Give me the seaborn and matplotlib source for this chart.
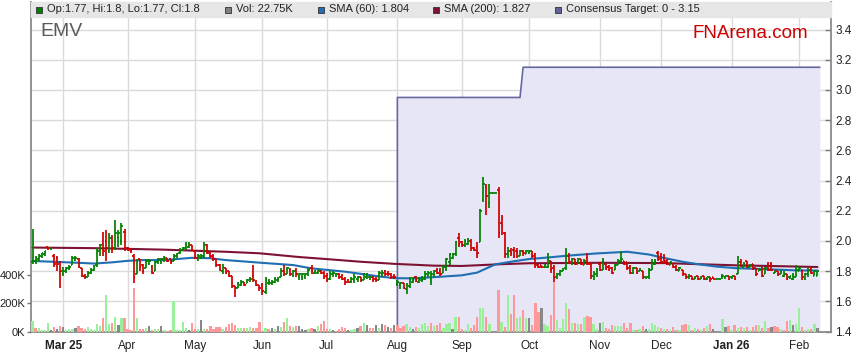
import numpy as np
import pandas as pd
import matplotlib
matplotlib.use("Agg")
import matplotlib.pyplot as plt
import seaborn as sns
from matplotlib.patches import Rectangle

sns.set_style("white")
plt.rcParams['font.family'] = ['Liberation Sans', 'DejaVu Sans']

# daily OHLC, one row per month (Feb 25 .. Feb 26)
open_ = [
    1.86, 1.87, 1.88, 1.90, 1.91, 1.96, 1.95, 1.90, 1.89, 1.86,
    1.78, 1.80, 1.82, 1.84, 1.88, 1.88, 1.82, 1.77, 1.76, 1.79, 1.81, 1.84, 1.93, 1.98, 2.00, 1.93, 2.02, 1.95, 2.02, 2.00, 2.06,
    1.95, 1.94, 1.90, 1.78, 1.88, 1.84, 1.82, 1.85, 1.83, 1.80, 1.86, 1.87, 1.88, 1.89, 1.88, 1.87, 1.90, 1.92, 1.94, 1.95, 1.96, 1.97,
    1.93, 1.88, 1.89, 1.90, 1.97, 1.92, 1.90, 1.88, 1.84, 1.80, 1.82, 1.80, 1.77, 1.70, 1.69, 1.71, 1.73, 1.72, 1.74, 1.77, 1.73, 1.71,
    1.71, 1.66, 1.72, 1.72, 1.73, 1.74, 1.76, 1.80, 1.78, 1.81, 1.77, 1.81, 1.77, 1.76, 1.77, 1.78, 1.82, 1.79, 1.79, 1.80, 1.79,
    1.77, 1.75, 1.78, 1.78, 1.78, 1.77, 1.75, 1.74, 1.73, 1.74, 1.75, 1.76, 1.74, 1.76, 1.76, 1.76, 1.75, 1.74, 1.78, 1.80, 1.79, 1.78, 1.77,
    1.72, 1.71, 1.72, 1.68, 1.70, 1.73, 1.76, 1.73, 1.74, 1.75, 1.77, 1.74, 1.77, 1.81, 1.80, 1.79, 1.82, 1.86, 1.89, 1.91, 2.02,
    1.99, 1.97, 1.98, 2.00, 1.95, 1.96, 1.99, 2.27, 2.36, 2.25, 2.32, 2.32, 2.34, 2.12, 2.05, 1.91, 1.93, 1.94, 1.93, 1.90, 1.93, 1.91,
    1.92, 1.93, 1.91, 1.84, 1.84, 1.83, 1.83, 1.87, 1.82, 1.76, 1.78, 1.80, 1.82, 1.90, 1.85, 1.88, 1.85, 1.88, 1.84, 1.89, 1.85, 1.77, 1.78,
    1.85, 1.81, 1.85, 1.83, 1.82, 1.81, 1.84, 1.86, 1.87, 1.86, 1.83, 1.79, 1.82, 1.80, 1.80, 1.76, 1.76, 1.81, 1.85, 1.92,
    1.90, 1.89, 1.87, 1.84, 1.85, 1.83, 1.80, 1.81, 1.78, 1.76, 1.77, 1.75, 1.77, 1.75, 1.77, 1.75, 1.76, 1.76, 1.75, 1.75, 1.76, 1.76, 1.77,
    1.76, 1.77, 1.78, 1.86, 1.83, 1.87, 1.83, 1.85, 1.82, 1.80, 1.82, 1.78, 1.84, 1.85, 1.79, 1.80, 1.78, 1.77, 1.78, 1.76, 1.75, 1.76,
    1.80, 1.81, 1.75, 1.78, 1.82, 1.77, 1.77,
]
high = [
    2.08, 1.90, 1.91, 1.92, 1.93, 1.96, 1.96, 1.91, 1.90, 1.87,
    1.83, 1.83, 1.84, 1.90, 1.90, 1.89, 1.82, 1.78, 1.80, 1.82, 1.84, 1.95, 1.98, 2.06, 2.07, 2.05, 2.04, 2.14, 2.07, 2.12, 2.08,
    1.96, 1.95, 1.91, 1.88, 1.88, 1.85, 1.88, 1.88, 1.84, 1.87, 1.89, 1.89, 1.90, 1.89, 1.88, 1.91, 1.92, 1.95, 1.96, 1.99, 1.99, 1.97,
    1.94, 1.91, 1.91, 1.99, 1.98, 1.93, 1.91, 1.88, 1.85, 1.85, 1.82, 1.80, 1.77, 1.70, 1.73, 1.74, 1.73, 1.75, 1.76, 1.84, 1.74, 1.71,
    1.72, 1.76, 1.75, 1.74, 1.76, 1.76, 1.82, 1.84, 1.83, 1.82, 1.81, 1.82, 1.79, 1.79, 1.79, 1.82, 1.84, 1.81, 1.81, 1.81, 1.80,
    1.79, 1.80, 1.80, 1.79, 1.79, 1.78, 1.76, 1.75, 1.76, 1.78, 1.77, 1.76, 1.79, 1.79, 1.77, 1.77, 1.76, 1.80, 1.81, 1.81, 1.80, 1.79, 1.78,
    1.74, 1.73, 1.72, 1.72, 1.76, 1.76, 1.77, 1.76, 1.77, 1.80, 1.80, 1.80, 1.81, 1.82, 1.82, 1.84, 1.89, 1.92, 1.92, 2.00, 2.05,
    2.00, 2.01, 2.02, 2.01, 1.96, 1.99, 2.21, 2.42, 2.38, 2.38, 2.32, 2.32, 2.36, 2.17, 2.06, 1.96, 1.95, 1.96, 1.95, 1.94, 1.94, 1.94,
    1.94, 1.93, 1.92, 1.85, 1.84, 1.85, 1.92, 1.87, 1.84, 1.79, 1.81, 1.82, 1.95, 1.92, 1.89, 1.88, 1.89, 1.88, 1.88, 1.92, 1.86, 1.80, 1.82,
    1.86, 1.89, 1.85, 1.84, 1.83, 1.85, 1.88, 1.93, 1.87, 1.86, 1.84, 1.83, 1.82, 1.82, 1.80, 1.76, 1.82, 1.88, 1.88, 1.93,
    1.92, 1.91, 1.88, 1.86, 1.85, 1.84, 1.83, 1.81, 1.78, 1.78, 1.77, 1.77, 1.77, 1.77, 1.77, 1.76, 1.76, 1.76, 1.75, 1.75, 1.78, 1.77, 1.77,
    1.77, 1.77, 1.90, 1.88, 1.86, 1.87, 1.85, 1.85, 1.82, 1.82, 1.83, 1.83, 1.86, 1.86, 1.81, 1.80, 1.81, 1.80, 1.78, 1.77, 1.79, 1.84,
    1.83, 1.81, 1.79, 1.82, 1.82, 1.81, 1.80,
]
low = [
    1.85, 1.85, 1.87, 1.89, 1.90, 1.94, 1.94, 1.83, 1.80, 1.69,
    1.77, 1.79, 1.81, 1.84, 1.87, 1.82, 1.76, 1.75, 1.76, 1.78, 1.80, 1.83, 1.90, 1.90, 1.87, 1.92, 1.92, 1.94, 1.96, 1.97, 1.93,
    1.93, 1.92, 1.72, 1.78, 1.80, 1.78, 1.82, 1.84, 1.78, 1.80, 1.85, 1.85, 1.86, 1.86, 1.85, 1.87, 1.89, 1.91, 1.93, 1.94, 1.95, 1.93,
    1.88, 1.87, 1.88, 1.89, 1.91, 1.89, 1.87, 1.83, 1.80, 1.78, 1.78, 1.76, 1.69, 1.63, 1.69, 1.70, 1.70, 1.72, 1.73, 1.73, 1.70, 1.67,
    1.64, 1.65, 1.71, 1.71, 1.72, 1.73, 1.76, 1.77, 1.78, 1.77, 1.76, 1.76, 1.74, 1.74, 1.75, 1.77, 1.78, 1.78, 1.78, 1.78, 1.75,
    1.73, 1.74, 1.76, 1.76, 1.75, 1.74, 1.71, 1.72, 1.72, 1.72, 1.73, 1.73, 1.74, 1.75, 1.74, 1.73, 1.73, 1.74, 1.76, 1.77, 1.77, 1.75, 1.75,
    1.70, 1.68, 1.68, 1.65, 1.69, 1.72, 1.73, 1.72, 1.73, 1.74, 1.76, 1.71, 1.76, 1.78, 1.77, 1.79, 1.80, 1.84, 1.88, 1.90, 1.96,
    1.96, 1.96, 1.97, 1.93, 1.93, 1.89, 1.99, 2.26, 2.17, 2.22, 2.32, 2.32, 2.02, 2.04, 1.89, 1.89, 1.90, 1.89, 1.89, 1.90, 1.90, 1.91,
    1.91, 1.89, 1.82, 1.82, 1.82, 1.82, 1.82, 1.79, 1.73, 1.75, 1.77, 1.80, 1.81, 1.85, 1.84, 1.84, 1.85, 1.84, 1.84, 1.84, 1.75, 1.74, 1.76,
    1.80, 1.81, 1.81, 1.80, 1.78, 1.81, 1.84, 1.86, 1.84, 1.81, 1.78, 1.78, 1.78, 1.80, 1.75, 1.75, 1.75, 1.81, 1.84, 1.87,
    1.85, 1.85, 1.84, 1.84, 1.82, 1.80, 1.80, 1.77, 1.75, 1.75, 1.74, 1.75, 1.74, 1.75, 1.74, 1.74, 1.73, 1.75, 1.75, 1.75, 1.75, 1.75, 1.74,
    1.75, 1.74, 1.78, 1.83, 1.83, 1.82, 1.83, 1.81, 1.77, 1.80, 1.76, 1.78, 1.80, 1.80, 1.79, 1.77, 1.78, 1.76, 1.74, 1.75, 1.74, 1.76,
    1.80, 1.74, 1.74, 1.76, 1.78, 1.77, 1.77,
]
close = [
    1.98, 1.89, 1.90, 1.92, 1.93, 1.95, 1.95, 1.85, 1.85, 1.80,
    1.80, 1.82, 1.83, 1.89, 1.89, 1.83, 1.77, 1.76, 1.79, 1.81, 1.83, 1.93, 1.97, 1.93, 1.95, 2.02, 1.95, 2.05, 2.05, 2.10, 1.95,
    1.94, 1.93, 1.76, 1.86, 1.83, 1.80, 1.87, 1.87, 1.79, 1.86, 1.88, 1.88, 1.89, 1.87, 1.86, 1.90, 1.91, 1.94, 1.95, 1.97, 1.97, 1.94,
    1.89, 1.90, 1.90, 1.97, 1.92, 1.90, 1.88, 1.84, 1.81, 1.83, 1.79, 1.77, 1.70, 1.69, 1.72, 1.73, 1.71, 1.74, 1.75, 1.74, 1.71, 1.69,
    1.67, 1.74, 1.73, 1.73, 1.75, 1.75, 1.80, 1.78, 1.82, 1.78, 1.80, 1.78, 1.78, 1.78, 1.78, 1.81, 1.80, 1.80, 1.81, 1.79, 1.76,
    1.74, 1.79, 1.79, 1.78, 1.76, 1.75, 1.73, 1.73, 1.75, 1.76, 1.76, 1.74, 1.78, 1.78, 1.76, 1.74, 1.74, 1.79, 1.79, 1.78, 1.78, 1.76, 1.76,
    1.73, 1.72, 1.69, 1.71, 1.75, 1.75, 1.74, 1.75, 1.76, 1.78, 1.79, 1.78, 1.80, 1.79, 1.78, 1.83, 1.88, 1.91, 1.91, 1.99, 1.98,
    1.97, 2.00, 2.01, 1.95, 1.94, 1.92, 2.20, 2.38, 2.30, 2.32, 2.32, 2.32, 2.05, 2.10, 1.91, 1.93, 1.92, 1.90, 1.92, 1.93, 1.92, 1.93,
    1.93, 1.90, 1.84, 1.83, 1.83, 1.84, 1.88, 1.81, 1.76, 1.78, 1.80, 1.81, 1.90, 1.86, 1.88, 1.85, 1.88, 1.85, 1.87, 1.85, 1.77, 1.79, 1.81,
    1.81, 1.87, 1.82, 1.81, 1.79, 1.84, 1.87, 1.88, 1.85, 1.82, 1.79, 1.82, 1.79, 1.81, 1.76, 1.76, 1.81, 1.86, 1.87, 1.88,
    1.86, 1.87, 1.85, 1.86, 1.83, 1.81, 1.82, 1.78, 1.76, 1.77, 1.75, 1.76, 1.75, 1.76, 1.75, 1.76, 1.75, 1.75, 1.75, 1.75, 1.77, 1.77, 1.75,
    1.77, 1.75, 1.86, 1.84, 1.85, 1.83, 1.84, 1.82, 1.78, 1.81, 1.77, 1.82, 1.81, 1.81, 1.80, 1.78, 1.80, 1.78, 1.75, 1.77, 1.77, 1.81,
    1.82, 1.76, 1.78, 1.81, 1.79, 1.80, 1.80,
]
# volume in thousands
volume_k = [
    75, 24, 24, 12, 8, 59, 10, 33, 17, 40, 33, 8, 17, 21, 28, 38, 28, 21, 33, 21,
    10, 52, 40, 99, 257, 52, 59, 106, 47, 94, 94, 17, 9, 307, 99, 21, 17, 28, 40, 9,
    21, 15, 40, 10,
    5, 8, 217, 10, 12, 64, 28, 10, 57, 17, 21, 83, 17, 21, 40, 21, 33, 33, 17, 33,
    52, 57, 45, 24, 24, 24, 28, 33, 28, 24, 64, 5, 24, 21, 28, 21, 40, 33, 64, 94,
    40, 33, 40,
    40, 21, 10, 17, 28, 21, 40, 52, 75, 17, 17, 10, 5, 17, 33, 24, 12, 10, 21, 28,
    40, 59, 47, 28, 28, 47, 28, 52, 47, 35, 26, 47, 47, 28, 40, 52, 35, 17, 33, 24,
    52, 59, 40, 59, 40,
    45, 57, 24, 52, 57, 21, 106, 106, 21, 12, 52, 28, 45, 106, 170, 170, 106, 52, 0, 0,
    293, 64, 33, 257, 123, 257, 94, 106, 153, 94, 94, 45, 200, 139, 165, 52, 40, 116, 355, 80,
    24, 92, 200, 158,
    59, 59, 52, 52, 104, 111, 104, 52, 17, 59, 71, 24, 17, 45, 40, 40, 40, 59, 24, 57,
    9, 9, 17, 40, 17, 17, 59, 45, 33, 28, 17, 17, 10, 33, 9, 9, 47, 52, 47, 12,
    28, 17, 10, 28,
    40, 52, 17, 0, 0, 87, 33, 40, 12, 45, 28, 33, 24, 33, 9, 33, 45, 45, 28, 75,
    28, 33, 40, 33, 21, 12, 75, 80, 45, 52, 165, 35, 9, 21, 17, 52, 22.75,
]

# moving averages (bar index, value)
sma60_idx = [0, 9, 15, 20, 26, 31, 36, 43, 52, 58, 63, 74, 85, 91, 102, 113, 118, 124, 131,
             140, 145, 151, 157, 162, 168, 175, 184, 194, 201, 206, 212, 217, 223, 229, 240, 250, 256]
sma60_val = [1.867, 1.860, 1.855, 1.850, 1.858, 1.868, 1.873, 1.873, 1.888, 1.885, 1.873, 1.856,
             1.840, 1.818, 1.796, 1.765, 1.753, 1.752, 1.760, 1.772, 1.790, 1.845, 1.865, 1.880,
             1.890, 1.903, 1.917, 1.928, 1.910, 1.887, 1.862, 1.846, 1.830, 1.820, 1.812, 1.804, 1.804]
sma200_idx = [0, 20, 43, 63, 74, 87, 97, 107, 118, 131, 140, 152, 162, 185, 206, 217, 230, 245, 256]
sma200_val = [1.956, 1.952, 1.942, 1.928, 1.918, 1.893, 1.878, 1.862, 1.848, 1.836, 1.834, 1.845,
              1.852, 1.855, 1.853, 1.846, 1.838, 1.832, 1.827]

# consensus target steps (bar index, value)
target_idx = [119, 159, 160]
target_val = [2.95, 2.95, 3.15]

month_labels = ["Mar 25", "Apr", "May", "Jun", "Jul", "Aug", "Sep", "Oct", "Nov", "Dec", "Jan 26", "Feb"]
price_ticks = [1.4, 1.6, 1.8, 2.0, 2.2, 2.4, 2.6, 2.8, 3.0, 3.2, 3.4]
vol_ticks = [0, 200, 400]

legend_items = [
    ("Op:1.77, Hi:1.8, Lo:1.77, Cl:1.8", "#008000"),
    ("Vol: 22.75K", "#808080"),
    ("SMA (60): 1.804", "#1f6fb2"),
    ("SMA (200): 1.827", "#7d1232"),
    ("Consensus Target: 0 - 3.15", "#62629a"),
]

o = np.array(open_)
h = np.array(high)
l = np.array(low)
c = np.array(close)
v = np.array(volume_k)
n = len(c)
x = np.arange(n)
dates = pd.bdate_range("2025-02-17", periods=n)

W, H = 859, 363
fig = plt.figure(figsize=(W / 100, H / 100), dpi=100)
L, R, B, T = 31, 831, 331.5, 2
ax = fig.add_axes([L / W, (H - B) / H, (R - L) / W, (B - T) / H])
ax_vol = ax.twinx()
ax_top = ax.twinx()

px_per_day = 3.066
xmin = -0.5
xmax = xmin + (R - L) / px_per_day
price_lo = 1.4
price_hi = price_lo + (B - T) / 151.0
vol_hi = (B - T) / 28.15 * 200

for a in (ax, ax_vol, ax_top):
    a.set_xlim(xmin, xmax)
    for s in a.spines.values():
        s.set_visible(False)
ax.set_ylim(price_lo, price_hi)
ax_top.set_ylim(price_lo, price_hi)
ax_vol.set_ylim(0, vol_hi)

# grid + consensus target fill on the base axes
month_pos = [i for i in range(1, n) if dates[i].month != dates[i - 1].month]
ax.set_axisbelow(True)
ax.set_xticks(month_pos)
ax.set_xticklabels(month_labels)
for lab in ax.get_xticklabels():
    if " " in lab.get_text():
        lab.set_fontweight("bold")
ax.set_yticks(price_ticks)
ax.set_yticklabels([f"{t:.1f}" for t in price_ticks])
ax.yaxis.tick_right()
ax.grid(True, color="#dadada", lw=1.0)
ax.tick_params(axis="x", direction="out", length=4, width=1, color="#777777",
               labelsize=8.5, labelcolor="#222222", pad=2)
ax.tick_params(axis="y", direction="in", length=4, width=1, color="#777777",
               labelsize=8.5, labelcolor="#222222", pad=3)
for side in ("left", "right", "bottom"):
    ax.spines[side].set_visible(True)
    ax.spines[side].set_color("#8a8a8a")
    ax.spines[side].set_linewidth(1.3)

tx = list(target_idx) + [n - 0.2]
ty = list(target_val) + [target_val[-1]]
ax.fill_between(tx, price_lo, ty, color="#e6e6f6", lw=0, zorder=1)
ax.plot([tx[0]] + tx, [price_lo] + ty, color="#6868a0", lw=1.2, zorder=2)

# volume bars
prev = np.r_[o[0], c[:-1]]
vcol = np.where(c > prev, "#99f099", np.where(c < prev, "#ff9999", "#888888"))
ax_vol.bar(x, v, width=0.75, color=vcol, lw=0)
ax_vol.yaxis.tick_left()
ax_vol.set_yticks(vol_ticks)
ax_vol.set_yticklabels([f"{t}K" for t in vol_ticks])
ax_vol.tick_params(axis="y", direction="out", length=3, width=1, color="#777777",
                   labelsize=8, labelcolor="#222222", pad=1)

# moving averages
sns.lineplot(x=sma200_idx, y=sma200_val, ax=ax_top, color="#7d1232", lw=1.5, zorder=3)
sns.lineplot(x=sma60_idx, y=sma60_val, ax=ax_top, color="#1f6fb2", lw=1.5, zorder=3)

# OHLC bars
col = np.where(c >= o, "#008000", "#d00000")
ax_top.vlines(x, l, h, colors=col, lw=1.25, zorder=4)
ax_top.hlines(o, x - 0.5, x, colors=col, lw=1.25, zorder=4)
ax_top.hlines(c, x, x + 0.5, colors=col, lw=1.25, zorder=4)
ax_top.set_yticks([])
ax_top.set_xlabel("")
ax_top.set_ylabel("")

# legend band
band_h = 15 / (B - T)
ax_top.add_patch(Rectangle((0, 1 - band_h), 1.0, band_h, transform=ax_top.transAxes,
                           color="#e6e6e6", zorder=10, clip_on=False))
item_x = [36, 225, 318, 433, 555]
yb = 1 - band_h / 2
for (txt, colr), px in zip(legend_items, item_x):
    xa = (px + 3 - L) / (R - L)
    ax_top.scatter([xa], [yb], s=24, marker="s", color=colr, edgecolors="#333333",
                   linewidths=0.6, transform=ax_top.transAxes, zorder=11, clip_on=False)
    ax_top.text(xa + 8 / (R - L), yb, txt, transform=ax_top.transAxes, fontsize=8,
                color="#222222", va="center", ha="left", zorder=11)

ax_top.text((40 - L) / (R - L), (B - 32) / (B - T), "EMV", transform=ax_top.transAxes,
            fontsize=14, color="#5a5a5a", va="center", ha="left", zorder=11)
ax_top.text((808 - L) / (R - L), (B - 33) / (B - T), "FNArena.com", transform=ax_top.transAxes,
            fontsize=13.5, color="#cc0000", va="center", ha="right", zorder=11)

fig.savefig("out.png", dpi=100)
